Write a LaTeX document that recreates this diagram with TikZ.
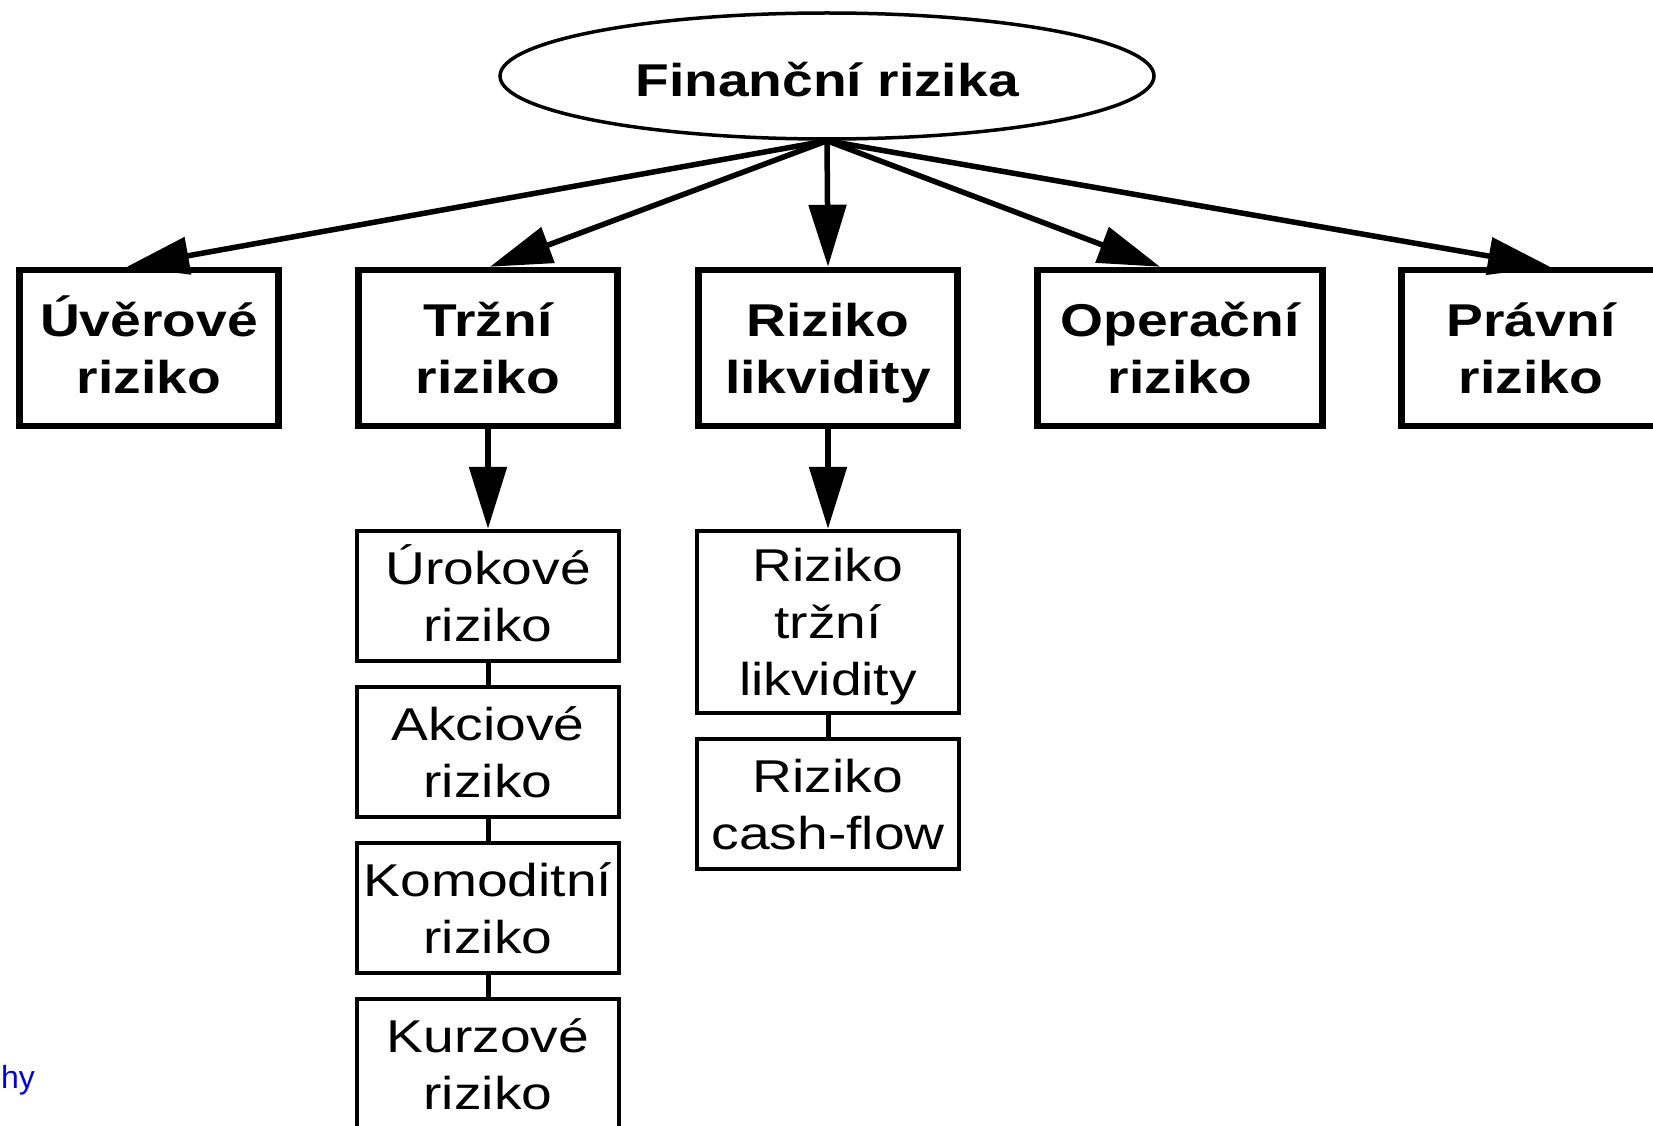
\documentclass[tikz,border=0pt]{standalone}
\usepackage{fontspec}
\setmainfont[FakeStretch=1.2]{Liberation Sans}
\newfontfamily\plainsans{Liberation Sans}
\usetikzlibrary{shapes.geometric,arrows.meta,calc}
\definecolor{linkblue}{RGB}{0,0,230}
\begin{document}
\begin{tikzpicture}[x=1pt,y=-1pt,
  box/.style={draw, line width=4.5pt, inner sep=0pt, align=center,
    text height=90pt, text depth=0pt,
    font=\fontsize{46}{57}\selectfont},
  topbox/.style={box, line width=6.5pt, minimum height=156pt, font=\fontsize{46}{57}\selectfont\bfseries},
  subbox/.style={box, minimum width=262pt, minimum height=130pt},
  arr/.style={line width=5.5pt, -{Triangle[length=62pt,width=37pt]}},
  link/.style={line width=5pt}]
\useasboundingbox (0,0) rectangle (1653,1126);
\fill[white] (0,0) rectangle (1653,1126);
\clip (0,0) rectangle (1653,1126);

\node[ellipse, draw, line width=3.5pt, minimum width=654pt, minimum height=126pt, inner sep=0pt,
  text height=42pt, text depth=0pt,
  font=\fontsize{46}{57}\selectfont\bfseries] (fin) at (827,76) {Finanční rizika};

\node[topbox, minimum width=259pt] (b1) at (149,348) {Úvěrové\\riziko};
\node[topbox, minimum width=259pt] (b2) at (488,348) {Tržní\\riziko};
\node[topbox, minimum width=259pt] (b3) at (828,348) {Riziko\\likvidity};
\node[topbox, minimum width=285pt] (b4) at (1180,348) {Operační\\riziko};
\node[topbox, minimum width=259pt] (b5) at (1531,348) {Právní\\riziko};

\node[subbox] (u) at (488,596) {Úrokové\\riziko};
\node[subbox] (a) at (488,752) {Akciové\\riziko};
\node[subbox] (k) at (488,908) {Komoditní\\riziko};
\node[subbox] (ku) at (488,1064) {Kurzové\\riziko};

\node[subbox, minimum height=182pt, text height=147pt] (l) at (828,622) {Riziko\\tržní\\likvidity};
\node[subbox] (c) at (828,804) {Riziko\\cash-flow};

\node[anchor=base east, text=linkblue, inner sep=0pt, font=\plainsans\fontsize{32}{38}\selectfont] (hy) at (35,1088) {hy};

\draw[arr] (fin.south) -- ($(b1.north)+(-22,0)$);
\draw[arr] (fin.south) -- ($(b2.north)+(2,0)$);
\draw[arr] (fin.south) -- (b3.north);
\draw[arr] (fin.south) -- ($(b4.north)+(-20,0)$);
\draw[arr] (fin.south) -- ($(b5.north)+(19,0)$);

\draw[arr] (b2.south) -- (u.north);
\draw[arr] (b3.south) -- (l.north);

\draw[link] (u.south) -- (a.north);
\draw[link] (a.south) -- (k.north);
\draw[link] (k.south) -- (ku.north);
\draw[link] (l.south) -- (c.north);
\end{tikzpicture}
\end{document}
